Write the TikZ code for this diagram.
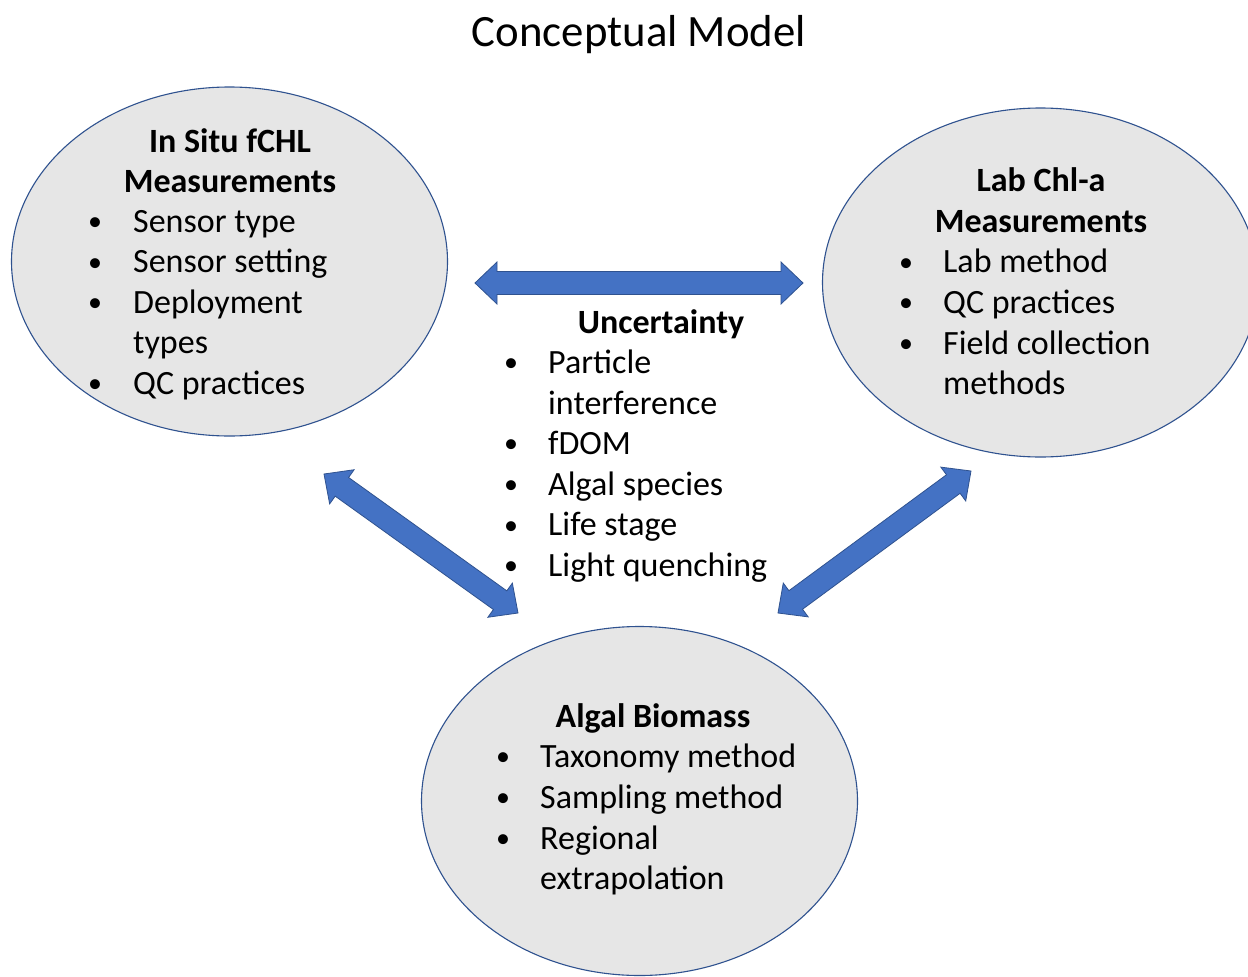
\documentclass[tikz,border=0pt]{standalone}
\usepackage{fontspec}
\setmainfont{Carlito}
\usetikzlibrary{calc,shapes.geometric}

\definecolor{arrowblue}{HTML}{4472C4}
\definecolor{shapeline}{HTML}{2F528F}
\definecolor{bubblegray}{HTML}{E6E6E6}

\tikzset{
  bubble/.style={ellipse, draw=shapeline, line width=1.1pt, fill=bubblegray,
    minimum width=436pt, minimum height=349pt, inner sep=0pt},
  blockarrow/.style={fill=arrowblue, draw=shapeline, line width=0.8pt, line join=miter},
  bodytext/.style={anchor=base west, inner sep=0pt, font=\fontsize{34}{40.6}\selectfont},
  headtext/.style={anchor=base, inner sep=0pt, font=\fontsize{34}{40.6}\selectfont\bfseries},
  bulletmark/.style={anchor=base, inner sep=0pt, font=\fontsize{28}{40.6}\selectfont},
  titletext/.style={anchor=base, inner sep=0pt, font=\fontsize{44.8}{50}\selectfont},
}

% one bullet point: #1 name, #2 bullet x, #3 text x, #4 baseline y, #5 text
\newcommand\bulletrow[5]{%
  \node[bulletmark] (#1-b) at (#2,#4-1.5) {•};
  \node[bodytext] (#1) at (#3,#4) {#5};}

% block double arrow between two tip coordinates
\newcommand\blockdoublearrow[2]{%
  \coordinate (#1-hb) at ($(#1)!22pt!(#2)$);
  \coordinate (#2-hb) at ($(#2)!22pt!(#1)$);
  \draw[blockarrow] (#1)
    -- ($(#1-hb)!21pt!90:(#2)$) -- ($(#1-hb)!11.5pt!90:(#2)$)
    -- ($(#2-hb)!11.5pt!-90:(#1)$) -- ($(#2-hb)!21pt!-90:(#1)$)
    -- (#2)
    -- ($(#2-hb)!21pt!90:(#1)$) -- ($(#2-hb)!11.5pt!90:(#1)$)
    -- ($(#1-hb)!11.5pt!-90:(#2)$) -- ($(#1-hb)!21pt!-90:(#2)$)
    -- cycle;}

\begin{document}
\begin{tikzpicture}[x=1pt,y=-1pt]
\useasboundingbox[fill=white] (0,0) rectangle (1248,977);

% title
\node[titletext] (title) at (639,46) {Conceptual Model};

% three ellipses
\node[bubble] (insitu) at (229.5,261.5) {};
\node[bubble] (lab) at (1040.5,282.5) {};
\node[bubble] (biomass) at (639.5,801) {};

% arrows between the ellipses
\coordinate (ha) at (475,283);
\coordinate (hb) at (803,283);
\coordinate (la) at (324,474);
\coordinate (lb) at (518,613);
\coordinate (ra) at (971,471);
\coordinate (rb) at (778,613);
\blockdoublearrow{ha}{hb}
\blockdoublearrow{la}{lb}
\blockdoublearrow{ra}{rb}

% in situ measurements
\node[headtext] (insitu-h1) at (230,152) {In Situ fCHL};
\node[headtext] (insitu-h2) at (230,192) {Measurements};
\bulletrow{insitu-1}{95}{133}{232}{Sensor type}
\bulletrow{insitu-2}{95}{133}{272.5}{Sensor setting}
\bulletrow{insitu-3}{95}{133}{313}{Deployment}
\node[bodytext] (insitu-3b) at (133,353.5) {types};
\bulletrow{insitu-4}{95}{133}{394}{QC practices}

% lab measurements
\node[headtext] (lab-h1) at (1041,191) {Lab Chl-a};
\node[headtext] (lab-h2) at (1041,232) {Measurements};
\bulletrow{lab-1}{906}{943}{272.5}{Lab method}
\bulletrow{lab-2}{906}{943}{313}{QC practices}
\bulletrow{lab-3}{906}{943}{354}{Field collection}
\node[bodytext] (lab-3b) at (943,394.5) {methods};

% uncertainty
\node[headtext] (unc-h) at (661,333) {Uncertainty};
\bulletrow{unc-1}{511}{548}{373}{Particle}
\node[bodytext] (unc-1b) at (548,414) {interference};
\bulletrow{unc-2}{511}{548}{454}{fDOM}
\bulletrow{unc-3}{511}{548}{495}{Algal species}
\bulletrow{unc-4}{511}{548}{535.5}{Life stage}
\bulletrow{unc-5}{511}{548}{576}{Light quenching}

% algal biomass
\node[headtext] (bio-h) at (653,727) {Algal Biomass};
\bulletrow{bio-1}{503}{540}{767}{Taxonomy method}
\bulletrow{bio-2}{503}{540}{808}{Sampling method}
\bulletrow{bio-3}{503}{540}{849}{Regional}
\node[bodytext] (bio-3b) at (540,889) {extrapolation};
\end{tikzpicture}
\end{document}
